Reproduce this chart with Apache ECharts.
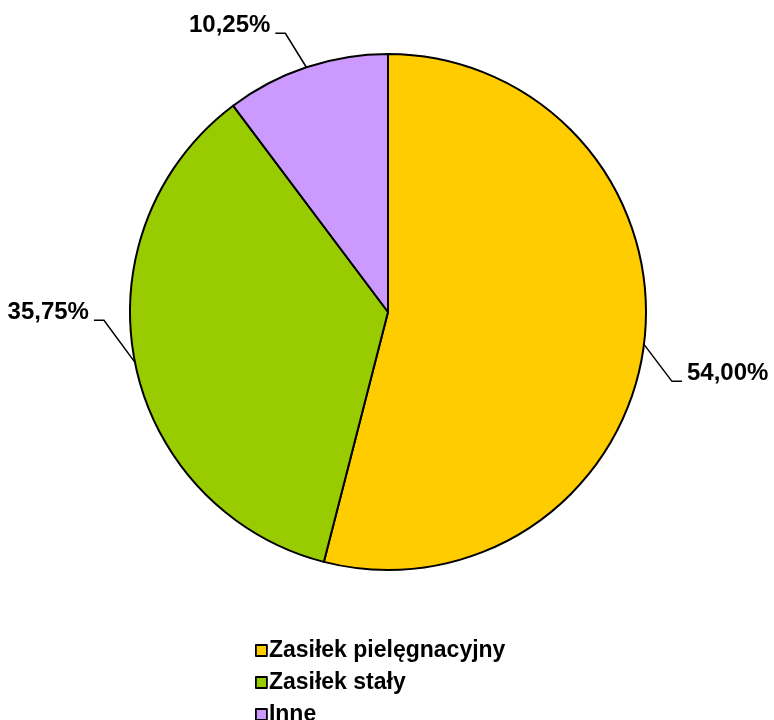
<!DOCTYPE html>
<html>
<head>
<meta charset="utf-8">
<script src="https://cdn.jsdelivr.net/npm/echarts@6/dist/echarts.min.js"></script>
<style>
  html, body { margin: 0; padding: 0; background: #fff; }
  #chart { width: 774px; height: 720px; }
</style>
</head>
<body>
<div id="chart"></div>
<script>
const categories = ['Zasiłek pielęgnacyjny', 'Zasiłek stały', 'Inne'];
const values = [54.00, 35.75, 10.25];
const colors = ['#FFCC00', '#99CC00', '#CC99FF'];

// elbow offsets of the leader lines, measured from the slice edge (Excel style)
const elbow = [[28, 37], [-31, -42], [-21, -34]];

function renderPie() {
    let myChart = echarts.init(document.getElementById('chart'));
    let option;

    option = {
        animation: false,
        textStyle: { fontFamily: 'Liberation Sans, Arial, sans-serif' },
        legend: {
            orient: 'vertical',
            left: 250,
            top: 634,
            height: 200,
            icon: 'rect',
            itemWidth: 11,
            itemHeight: 11,
            itemGap: 9,
            textStyle: { fontSize: 23, fontWeight: 'bold', color: '#000', padding: [0, 0, 0, -3] },
            itemStyle: { borderColor: '#000', borderWidth: 1.8 },
            data: categories
        },
        series: [
            {
                type: 'pie',
                center: [388, 312],
                radius: 258,
                startAngle: 90,
                clockwise: true,
                color: colors,
                itemStyle: { borderColor: '#000', borderWidth: 2 },
                label: {
                    show: true,
                    fontSize: 24,
                    fontWeight: 'bold',
                    color: '#000',
                    overflow: 'none',
                    formatter: p => p.value.toFixed(2).replace('.', ',') + '%'
                },
                labelLine: {
                    show: true,
                    length: 40,
                    length2: 10,
                    lineStyle: { color: '#000', width: 1.5 }
                },
                labelLayout: function (params) {
                    const p0 = params.labelLinePoints[0];
                    const e = elbow[params.dataIndex];
                    const dir = e[0] > 0 ? 1 : -1;
                    const p1 = [p0[0] + e[0], p0[1] + e[1]];
                    const p2 = [p1[0] + dir * 10, p1[1]];
                    return {
                        x: p2[0] + dir * 5,
                        y: p2[1] - 8,
                        align: dir > 0 ? 'left' : 'right',
                        verticalAlign: 'middle',
                        labelLinePoints: [p0, p1, p2]
                    };
                },
                emphasis: { disabled: true },
                data: categories.map((c, i) => ({ name: c, value: values[i] }))
            }
        ]
    };

    option && myChart.setOption(option);
}

renderPie();
</script>
</body>
</html>
